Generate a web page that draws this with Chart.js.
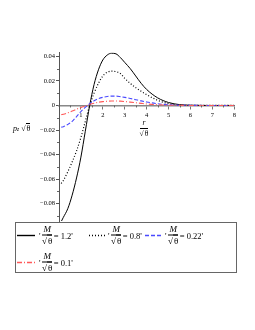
<!DOCTYPE html>
<html>
<head>
<meta charset="utf-8">
<script src="https://cdn.jsdelivr.net/npm/chart.js@4.4.1/dist/chart.umd.min.js"></script>
<style>
  html, body { margin: 0; padding: 0; background: #fff; }
  #wrap { position: relative; width: 255px; height: 330px; font-family: "Liberation Serif", "Times New Roman", serif; color: #000; }
  #wrap canvas { position: absolute; left: 0; top: 0; }
  .abs { position: absolute; white-space: nowrap; display: flex; align-items: center; transform: translateY(-50%); }
  .frac { display: inline-block; vertical-align: middle; text-align: center; line-height: 1; margin: 0 1.5px; }
  .frac > span { display: block; }
  .frac > .n { border-bottom: 0.8px solid #000; padding: 0 1px 1px; }
  .frac > .d { padding-top: 1px; }
  .ov { border-top: 0.8px solid #000; padding-left: 1px; }
  #legendBox { position: absolute; left: 15px; top: 222px; width: 222px; height: 51px; border: 1px solid #666; box-sizing: border-box; }
  .it { font-style: italic; }
</style>
</head>
<body>
<div id="wrap">
  <canvas id="chart" width="255" height="330"></canvas>
  <div id="legendBox"></div>
  <svg id="samples" width="255" height="330" style="position:absolute;left:0;top:0"></svg>
  <div class="abs" style="left:13px;top:128px;font-size:8px"><span class="it">p</span><sub style="font-size:5.5px;position:relative;top:1px" class="it">z</sub>&nbsp;√<span class="ov">θ</span></div>
  <div class="abs" style="left:138px;top:128px;font-size:7.5px"><span class="frac"><span class="n it">&nbsp;r&nbsp;</span><span class="d">√<span class="ov">θ</span></span></span></div>
</div>
<script>
// r / sqrt(theta)
const r = [0.1, 0.2, 0.4, 0.6, 0.8, 1.0, 1.2, 1.4, 1.6, 1.8, 2.0, 2.2, 2.4, 2.6, 2.8, 3.0, 3.25, 3.5, 3.75, 4.0, 4.5, 5.0, 5.5, 6.0, 7.0, 8.0];

// p_z sqrt(theta) for M/sqrt(theta) = 1.2, 0.8, 0.22, 0.1
const m12 = [-0.0945, -0.091, -0.084, -0.073, -0.059, -0.042, -0.021, 0.0, 0.017, 0.029, 0.037, 0.041, 0.0425, 0.042, 0.039, 0.035, 0.030, 0.024, 0.018, 0.013, 0.0062, 0.0024, 0.0007, 0.0002, 0, 0];
const m08 = [-0.0635, -0.061, -0.054, -0.046, -0.037, -0.026, -0.013, 0.0, 0.010, 0.018, 0.024, 0.027, 0.028, 0.0275, 0.026, 0.022, 0.018, 0.0145, 0.0115, 0.0088, 0.0042, 0.0015, 0.0004, 0.0001, 0, 0];
const m022 = [-0.0177, -0.0173, -0.0155, -0.0130, -0.0090, -0.0050, -0.0015, 0.0015, 0.0038, 0.0055, 0.0066, 0.0073, 0.0076, 0.0076, 0.0072, 0.0066, 0.0057, 0.0047, 0.0037, 0.0028, 0.0014, 0.0006, 0.0002, 0.0001, 0, 0];
const m01 = [-0.0075, -0.0072, -0.0060, -0.0046, -0.0030, -0.0016, -0.0004, 0.0008, 0.0018, 0.0026, 0.0031, 0.0034, 0.0036, 0.0036, 0.0035, 0.0032, 0.0027, 0.0022, 0.0017, 0.0012, 0.0006, 0.0002, 0.0001, 0, 0, 0];

const legendValues = ['1.2', '0.8', '0.22', '0.1'];

const xTicks = [1, 2, 3, 4, 5, 6, 7, 8];
const yTicks = [-0.08, -0.06, -0.04, -0.02, 0, 0.02, 0.04];
const yTickLabels = ['\u22120.08', '\u22120.06', '\u22120.04', '\u22120.02', '0', '0.02', '0.04'];

const styles = [
  { color: '#000000', width: 1, dash: [] },
  { color: '#000000', width: 1.2, dash: [1, 2] },
  { color: '#4a4aff', width: 1.1, dash: [4, 2] },
  { color: '#ff5a5a', width: 1.1, dash: [5, 2, 1, 2] }
];

const series = [m12, m08, m022, m01];
const pts = vals => vals.map((v, i) => ({ x: r[i], y: v }));

const fontTick = { family: '"Liberation Serif", "Times New Roman", serif', size: 6.5 };

// small minor ticks on both axes
const minorTicks = {
  id: 'minorTicks',
  afterDraw(chart) {
    const { ctx, scales: { x, y } } = chart;
    ctx.save();
    ctx.strokeStyle = '#666';
    ctx.lineWidth = 1;
    const y0 = y.getPixelForValue(0);
    for (let v = 0.5; v < 8; v += 1) {
      const px = Math.round(x.getPixelForValue(v)) + 0.5;
      ctx.beginPath(); ctx.moveTo(px, y0); ctx.lineTo(px, y0 + 2); ctx.stroke();
    }
    const x0 = x.getPixelForValue(0);
    for (let v = -0.09; v < 0.045; v += 0.02) {
      const py = Math.round(y.getPixelForValue(v)) + 0.5;
      ctx.beginPath(); ctx.moveTo(x0 - 2, py); ctx.lineTo(x0, py); ctx.stroke();
    }
    ctx.restore();
  }
};

new Chart(document.getElementById('chart').getContext('2d'), {
  type: 'line',
  data: {
    datasets: series.map((s, i) => ({
      label: legendValues[i],
      data: pts(s),
      borderColor: styles[i].color,
      borderWidth: styles[i].width,
      borderDash: styles[i].dash,
      pointRadius: 0,
      fill: false,
      cubicInterpolationMode: 'monotone'
    })).reverse()
  },
  options: {
    responsive: false,
    animation: false,
    layout: { padding: { top: 52.6, right: 20.7, bottom: 109, left: 0 } },
    plugins: { legend: { display: false }, tooltip: { enabled: false } },
    scales: {
      x: {
        type: 'linear',
        min: 0,
        max: 8,
        position: { y: 0 },
        afterBuildTicks: s => { s.ticks = xTicks.map(v => ({ value: v })); },
        grid: { drawOnChartArea: false, tickLength: 3, color: '#777' },
        border: { color: '#888', width: 1.5 },
        ticks: { font: fontTick, color: '#000', padding: 3, maxRotation: 0 }
      },
      y: {
        type: 'linear',
        min: -0.094,
        max: 0.043,
        afterBuildTicks: s => { s.ticks = yTicks.map(v => ({ value: v })); },
        afterFit: s => { s.width = 59; },
        grid: { drawOnChartArea: false, tickLength: 3, color: '#555' },
        border: { color: '#555', width: 1 },
        ticks: {
          font: fontTick,
          color: '#000',
          padding: 1,
          callback: v => yTickLabels[yTicks.findIndex(t => Math.abs(t - v) < 1e-9)]
        }
      }
    }
  },
  plugins: [minorTicks]
});

// legend: samples + fraction labels
const sampleX = [[17, 35], [89, 106], [145, 161], [17, 35]];
const rowY = [235, 235, 235, 262];
const textX = [39, 108, 165, 39];
const svg = document.getElementById('samples');
const wrap = document.getElementById('wrap');
styles.forEach((st, i) => {
  const ln = document.createElementNS('http://www.w3.org/2000/svg', 'line');
  ln.setAttribute('x1', sampleX[i][0]);
  ln.setAttribute('x2', sampleX[i][1]);
  ln.setAttribute('y1', rowY[i] + 0.5);
  ln.setAttribute('y2', rowY[i] + 0.5);
  ln.setAttribute('stroke', st.color);
  ln.setAttribute('stroke-width', Math.max(st.width, 1.4));
  if (st.dash.length) ln.setAttribute('stroke-dasharray', st.dash.join(' '));
  svg.appendChild(ln);

  const d = document.createElement('div');
  d.className = 'abs';
  d.style.left = textX[i] + 'px';
  d.style.top = rowY[i] + 'px';
  d.style.fontSize = '8.5px';
  d.innerHTML = "'<span class=\"frac\" style=\"font-size:9px\"><span class=\"n it\">M</span>" +
    "<span class=\"d\">√<span class=\"ov\">θ</span></span></span>= " + legendValues[i] + "'";
  wrap.appendChild(d);
});
</script>
</body>
</html>
